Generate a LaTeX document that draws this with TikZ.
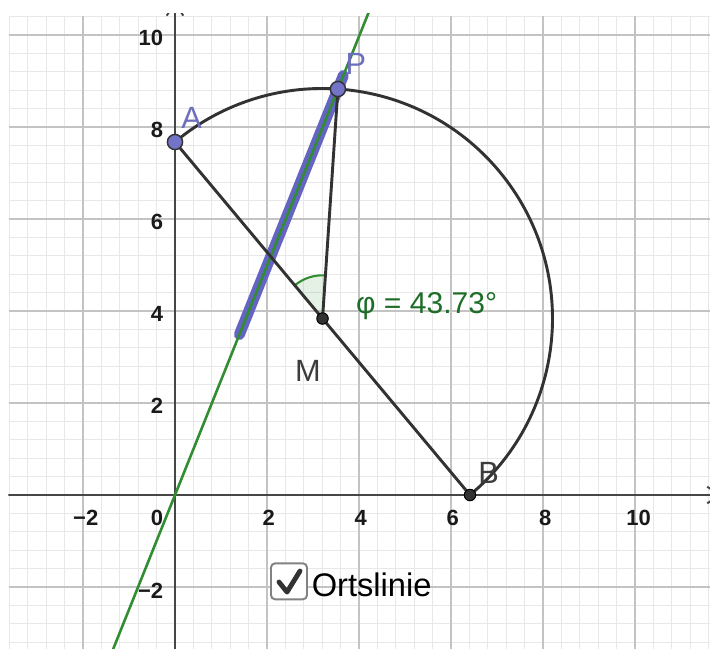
\documentclass[tikz,border=0pt]{standalone}
\usepackage{fontspec}
\setmainfont{Liberation Sans}
\usetikzlibrary{calc}
\definecolor{gridmin}{RGB}{232,232,232}
\definecolor{gridmaj}{RGB}{195,195,195}
\definecolor{axcol}{RGB}{70,70,70}
\definecolor{segcol}{RGB}{50,50,50}
\definecolor{ggreen}{RGB}{50,140,50}
\definecolor{phigreen}{RGB}{30,110,40}
\definecolor{locuscol}{RGB}{100,100,195}
\definecolor{ptfill}{RGB}{115,115,200}
\definecolor{ptlabel}{RGB}{110,110,190}
\definecolor{lblgray}{RGB}{60,60,60}
\definecolor{boxgray}{RGB}{130,130,130}
\begin{document}
\begin{tikzpicture}[x=1cm,y=1cm,
  minorgrid/.style={draw=gridmin, line width=0.6pt},
  majorgrid/.style={draw=gridmaj, line width=0.9pt},
  axisline/.style={draw=axcol, line width=1.2pt},
  seg/.style={draw=segcol, line width=1.8pt},
  gline/.style={draw=ggreen, line width=1.6pt},
  locus/.style={draw=locuscol, line width=6.8pt, line cap=round},
  bluept/.style={circle, fill=ptfill, draw=black!80, line width=0.9pt, minimum size=0.33cm, inner sep=0pt},
  blackpt/.style={circle, fill=segcol, draw=black, line width=0.6pt, minimum size=0.25cm, inner sep=0pt},
  ticklbl/.style={font=\bfseries\fontsize{13.6}{15}\selectfont, text=black!90, inner sep=0pt},
  ptlbl/.style={font=\fontsize{19}{21}\selectfont, inner sep=0pt},
  cbox/.style={draw=boxgray, line width=1.2pt, rounded corners=0.09cm, minimum size=0.783cm, fill=white, inner sep=0pt},
  checkline/.style={draw=segcol, line width=3pt, line cap=round, line join=round},
]
\useasboundingbox (-3.804,-3.326) rectangle (11.630,10.761);
\fill[white] (-3.804,-3.326) rectangle (11.630,10.761);
\coordinate (O) at (0,0);
\coordinate (A) at (0,7.674);
\coordinate (B) at (6.413,0);
\coordinate (M) at (3.207,3.837);
\coordinate (P) at (3.542,8.826);
\coordinate (G1) at (-1.45,-3.613);
\coordinate (G2) at (4.30,10.716);
\coordinate (L1) at (1.40,3.489);
\coordinate (L2) at (3.66,9.121);
\coordinate (XE) at (11.85,0);
\coordinate (XW) at (-3.62,0);
\coordinate (YN) at (0,10.70);
\coordinate (YS) at (0,-3.4);
\begin{scope}
\clip (-3.62,-3.4) rectangle (11.63,10.47);
\draw[minorgrid] (-3.61,-3.61) grid[step=0.4] (11.7,10.41);
\draw[majorgrid] (-3.61,-3.61) grid[step=2] (11.7,10.41);
\draw[axisline] (XW) -- (XE);
\draw[axisline] ($(XE)+(-0.28,0.18)$) -- (XE) -- ($(XE)+(-0.28,-0.18)$);
\draw[axisline] (YS) -- (YN);
\draw[axisline] ($(YN)+(-0.18,-0.28)$) -- (YN) -- ($(YN)+(0.18,-0.28)$);
\draw[locus] (L1) -- (L2);
\draw[gline] (G1) -- (G2);
\end{scope}
% tick labels
\node[ticklbl] (tx-2) at (-1.94,-0.49) {−2};
\node[ticklbl] (tx0) at (-0.39,-0.49) {0};
\node[ticklbl] (tx2) at (2.04,-0.49) {2};
\node[ticklbl] (tx4) at (4.04,-0.49) {4};
\node[ticklbl] (tx6) at (6.04,-0.49) {6};
\node[ticklbl] (tx8) at (8.05,-0.49) {8};
\node[ticklbl] (tx10) at (10.08,-0.49) {10};
\node[ticklbl, anchor=east] (ty10) at (-0.25,9.94) {10};
\node[ticklbl, anchor=east] (ty8) at (-0.25,7.93) {8};
\node[ticklbl, anchor=east] (ty6) at (-0.25,5.93) {6};
\node[ticklbl, anchor=east] (ty4) at (-0.25,3.93) {4};
\node[ticklbl, anchor=east] (ty2) at (-0.25,1.93) {2};
\node[ticklbl, anchor=east] (ty-2) at (-0.25,-2.08) {−2};
% angle
\fill[fill=ggreen, fill opacity=0.12] (M) -- ($(M)+(86.16:0.94)$) arc[start angle=86.16, end angle=129.89, radius=0.94] -- cycle;
\draw[ggreen, line width=1.3pt] ($(M)+(86.16:0.94)$) arc[start angle=86.16, end angle=129.89, radius=0.94];
% circle arc and segments
\draw[seg] (A) arc[start angle=129.89, end angle=-50.11, radius=5];
\draw[seg] (A) -- (B);
\draw[seg] (M) -- (P);
% points
\node[bluept] (Apt) at (A) {};
\node[bluept] (Ppt) at (P) {};
\node[blackpt] (Mpt) at (M) {};
\node[blackpt] (Bpt) at (B) {};
% labels
\node[ptlbl, text=ptlabel] (Alab) at (0.363,8.207) {A};
\node[ptlbl, text=ptlabel] (Plab) at (3.93,9.365) {P};
\node[ptlbl, text=lblgray] (Blab) at (6.82,0.489) {B};
\node[ptlbl, text=lblgray] (Mlab) at (2.887,2.691) {M};
\node[ptlbl, text=phigreen, anchor=base west, font=\fontsize{18.6}{20}\selectfont] (phi) at (3.93,3.95) {φ = 43.73°};
% checkbox
\node[cbox] (cb) at (2.478,-1.876) {};
\draw[checkline] ($(cb.center)+(-0.217,-0.015)$) -- ($(cb.center)+(-0.043,-0.233)$) -- ($(cb.center)+(0.239,0.224)$);
\node[anchor=base west, inner sep=0pt, font=\fontsize{20.2}{22}\selectfont] (cblab) at (2.967,-2.196) {Ortslinie};
\end{tikzpicture}
\end{document}
